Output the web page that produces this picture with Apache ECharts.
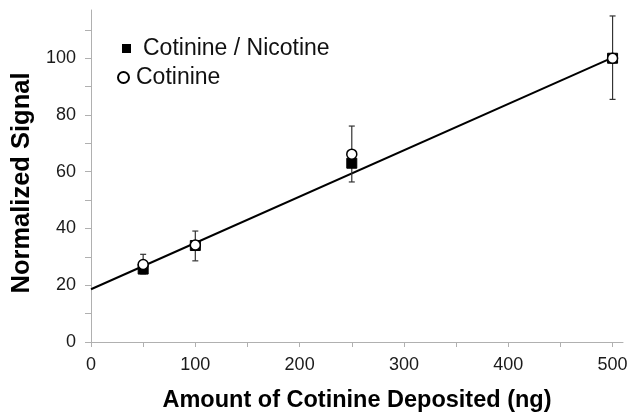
<!DOCTYPE html>
<html>
<head>
<meta charset="utf-8">
<script src="https://cdn.jsdelivr.net/npm/echarts@6/dist/echarts.min.js"></script>
<style>
  html, body { margin: 0; padding: 0; background: #fff; }
  #chart { width: 631px; height: 418px; }
</style>
</head>
<body>
<div id="chart"></div>
<script>
// amounts deposited (ng)
const amounts = [50, 100, 250, 500];
// Cotinine / Nicotine (filled squares)
const ratioSignal = [25.7, 34.0, 63.0, 100.0];
// Cotinine alone (open circles)
const cotinineSignal = [27.3, 34.2, 66.2, 100.0];
// error bars (low / high)
const errLow = [24.0, 28.6, 56.4, 85.5];
const errHigh = [30.9, 39.1, 76.1, 114.9];
// linear fit end points
const fitX = [0, 500];
const fitY = [18.6, 100.2];

const xTicks = [0, 50, 100, 150, 200, 250, 300, 350, 400, 450, 500];
const xLabels = [0, 100, 200, 300, 400, 500];
const yTicks = [0, 10, 20, 30, 40, 50, 60, 70, 80, 90, 100, 110];
const yLabels = [0, 20, 40, 60, 80, 100];

const font = "'Liberation Sans', Arial, sans-serif";
const axisGray = '#b0b0b0';

const chart = echarts.init(document.getElementById('chart'));

const option = {
  animation: false,
  backgroundColor: '#fff',
  textStyle: { fontFamily: font },
  grid: { left: 91, right: 8, top: 10, bottom: 76 },
  legend: [
    {
      data: [{ name: 'Cotinine / Nicotine', icon: 'rect' }],
      left: 122, top: 37, padding: 0,
      itemWidth: 7, itemHeight: 7,
      textStyle: { fontFamily: font, fontSize: 23, color: '#111', padding: [0, 0, 0, 8] },
      selectedMode: false
    },
    {
      data: [{ name: 'Cotinine', icon: 'circle' }],
      left: 117, top: 66, padding: 0,
      itemWidth: 11, itemHeight: 11,
      textStyle: { fontFamily: font, fontSize: 23, color: '#111', padding: [0, 0, 0, 2] },
      selectedMode: false
    }
  ],
  xAxis: {
    type: 'value',
    min: 0, max: 510,
    name: 'Amount of Cotinine Deposited (ng)',
    nameLocation: 'middle',
    nameGap: 47,
    nameTextStyle: { fontFamily: font, fontSize: 23.5, fontWeight: 'bold', color: '#000' },
    axisLine: { lineStyle: { color: axisGray, width: 1 } },
    axisTick: { show: true, length: 5, customValues: xTicks, lineStyle: { color: axisGray } },
    axisLabel: { customValues: xLabels, margin: 14, fontSize: 18, color: '#1a1a1a', fontFamily: font },
    splitLine: { show: false }
  },
  yAxis: {
    type: 'value',
    min: 0, max: 117,
    name: 'Normalized Signal',
    nameLocation: 'middle',
    nameGap: 56,
    nameTextStyle: { fontFamily: font, fontSize: 25.5, fontWeight: 'bold', color: '#000', padding: [0, 14, 0, 0] },
    axisLine: { show: true, lineStyle: { color: axisGray, width: 1 } },
    axisTick: { show: true, length: 6, customValues: yTicks, lineStyle: { color: axisGray } },
    axisLabel: { customValues: yLabels, margin: 15, fontSize: 18, color: '#1a1a1a', fontFamily: font },
    splitLine: { show: false }
  },
  series: [
    {
      name: 'fit',
      type: 'line',
      data: fitX.map((x, i) => [x, fitY[i]]),
      showSymbol: false,
      lineStyle: { color: '#000', width: 2 },
      z: 2
    },
    {
      name: 'error',
      type: 'custom',
      data: amounts.map((x, i) => [x, errLow[i], errHigh[i]]),
      renderItem: function (params, api) {
        const lo = api.coord([api.value(0), api.value(1)]);
        const hi = api.coord([api.value(0), api.value(2)]);
        const w = 3;
        const style = { stroke: '#333', lineWidth: 1.2 };
        return {
          type: 'group',
          children: [
            { type: 'line', shape: { x1: lo[0], y1: lo[1], x2: hi[0], y2: hi[1] }, style: style },
            { type: 'line', shape: { x1: lo[0] - w, y1: lo[1], x2: lo[0] + w, y2: lo[1] }, style: style },
            { type: 'line', shape: { x1: hi[0] - w, y1: hi[1], x2: hi[0] + w, y2: hi[1] }, style: style }
          ]
        };
      },
      z: 3
    },
    {
      name: 'Cotinine / Nicotine',
      type: 'scatter',
      data: amounts.map((x, i) => [x, ratioSignal[i]]),
      symbol: 'rect',
      symbolSize: 10,
      itemStyle: { color: '#000', borderColor: '#000', borderWidth: 1, opacity: 1 },
      z: 4
    },
    {
      name: 'Cotinine',
      type: 'scatter',
      data: amounts.map((x, i) => [x, cotinineSignal[i]]),
      symbol: 'circle',
      symbolSize: 10,
      itemStyle: { color: '#fff', borderColor: '#000', borderWidth: 1.5, opacity: 1 },
      z: 5
    }
  ]
};

chart.setOption(option);
</script>
</body>
</html>
